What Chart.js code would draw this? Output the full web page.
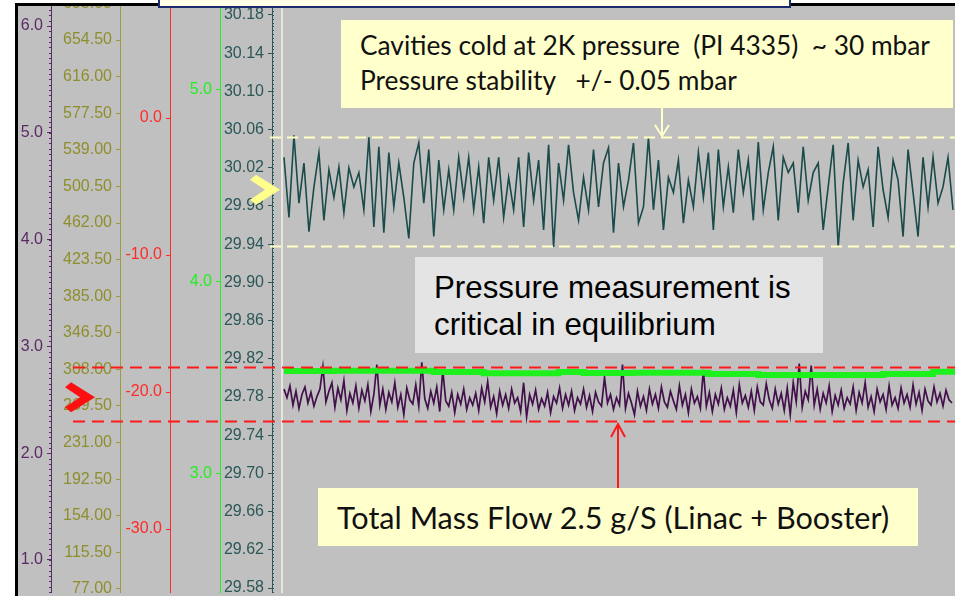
<!DOCTYPE html>
<html>
<head>
<meta charset="utf-8">
<script src="https://cdn.jsdelivr.net/npm/chart.js@4.4.1/dist/chart.umd.min.js"></script>
<style>
  html, body { margin:0; padding:0; background:#ffffff; width:955px; height:596px; overflow:hidden; }
  #frame { position:absolute; left:15px; top:3px; width:945px; height:596px; box-sizing:border-box;
           border-left:3px solid #000; border-top:3px solid #000; border-bottom:3px solid #000; background:#c0c0c0; }
  #chartWrap { position:absolute; left:18px; top:6px; width:937px; height:587px; }
  .box { position:absolute; box-sizing:border-box; }
  #title { left:158px; top:-32px; width:633px; height:40px; background:#fffde6; border:2px solid #1b2a6b; }
  #note1 { left:341px; top:20px; width:612px; height:88px; background:#ffffcc; font-family:Lato, 'Open Sans', sans-serif; font-size:26.3px; line-height:31px; color:#111; }
  #note1 div { position:absolute; left:19px; white-space:pre; }
  #note2 { left:415px; top:257px; width:408px; height:96px; background:#e4e4e4; font-family:'Liberation Sans', Arial, sans-serif; font-size:31.3px; line-height:36px; color:#000; }
  #note2 div { position:absolute; left:19px; white-space:pre; }
  #note3 { left:318px; top:488px; width:600px; height:58px; background:#ffffcc; font-family:Lato, 'Open Sans', sans-serif; font-size:30.6px; line-height:36px; color:#111; }
  #note3 div { position:absolute; left:19px; white-space:pre; }
  svg { position:absolute; left:0; top:0; }
</style>
</head>
<body>
<div id="frame"></div>
<div id="chartWrap"><canvas id="c" width="937" height="587"></canvas></div>
<div class="box" id="title"></div>
<div class="box" id="note1"><div style="top:10px">Cavities cold at 2K pressure  (PI 4335)  ~ 30 mbar</div><div style="top:45px">Pressure stability   +/- 0.05 mbar</div></div>
<div class="box" id="note2"><div style="top:13px">Pressure measurement is</div><div style="top:50px">critical in equilibrium</div></div>
<div class="box" id="note3"><div style="top:12px">Total Mass Flow 2.5 g/S (Linac + Booster)</div></div>
<svg width="955" height="596">
  <polyline points="662,108 662,136" stroke="#ffffcc" stroke-width="2" fill="none"/>
  <polyline points="655,125 662,136 669,125" stroke="#ffffcc" stroke-width="2" fill="none"/>
  <polyline points="618,488 618,424" stroke="#ff1a1a" stroke-width="2" fill="none"/>
  <polyline points="611,437 618,424 625,437" stroke="#ff1a1a" stroke-width="2" fill="none"/>
</svg>
<script>
// ---------- data ----------
// Pressure PI 4335 (mbar), one sample every 5 s
const pressure = [
 30.031, 29.968, 30.054, 29.983, 30.025, 29.953, 30.000, 30.036, 29.965, 30.018,
 29.989, 30.021, 29.973, 30.020, 30.000, 30.015, 29.976, 30.052, 29.958, 30.042,
 29.952, 30.036, 29.979, 30.025, 29.989, 29.946, 30.025, 30.046, 29.983, 30.039,
 29.948, 30.028, 29.976, 30.018, 29.976, 30.031, 29.989, 30.031, 29.976, 30.021,
 29.962, 30.031, 29.986, 30.031, 29.968, 30.010, 29.976, 30.031, 29.958, 30.036,
 29.986, 30.028, 29.955, 30.044, 29.937, 30.025, 29.986, 30.044, 29.994, 29.965,
 30.010, 29.976, 30.039, 29.979, 30.025, 30.041, 29.952,
 30.025, 29.979, 30.007, 30.046, 29.962, 29.979, 30.052, 29.976, 30.028, 29.955,
 30.010, 29.994, 30.028, 29.962, 30.007, 29.979, 30.036, 29.989, 30.036, 29.955,
 30.039, 29.979, 30.021, 29.973, 30.039, 29.994, 30.028, 29.965, 30.047, 29.976,
 30.015, 30.042, 29.965, 30.031, 30.015, 30.025, 29.973, 30.042, 29.986, 30.015,
 30.025, 29.955, 30.000, 30.044, 29.937, 30.004, 30.046, 29.965, 30.028, 30.000,
 30.018, 29.958, 30.042, 29.997, 29.968, 30.028, 30.007, 29.948, 30.039, 29.994,
 29.948, 30.031, 29.979, 30.031, 29.983, 30.000, 30.031, 29.976
];
const pressureStep = 5;

// Total mass flow (g/s), one sample every 3 s
const massFlow = [
 2.60, 2.52, 2.63, 2.45, 2.58, 2.42, 2.55, 2.62, 2.47, 2.57, 2.44, 2.53, 2.60, 2.81, 2.48, 2.58,
 2.66, 2.43, 2.61, 2.50, 2.68, 2.40, 2.56, 2.47, 2.63, 2.42, 2.59, 2.49, 2.64, 2.39, 2.55, 2.83,
 2.45, 2.60, 2.41, 2.57, 2.48, 2.66, 2.43, 2.55, 2.36, 2.61, 2.50, 2.46, 2.64, 2.44, 2.85, 2.51,
 2.42, 2.58, 2.47, 2.62, 2.39, 2.78, 2.49, 2.44, 2.57, 2.38, 2.55, 2.46, 2.60, 2.41, 2.52, 2.45,
 2.56, 2.40, 2.61, 2.48, 2.67, 2.43, 2.53, 2.37, 2.58, 2.45, 2.55, 2.42, 2.60, 2.47, 2.52, 2.39,
 2.66, 2.34, 2.55, 2.46, 2.59, 2.41, 2.51, 2.44, 2.57, 2.38, 2.53, 2.47, 2.61, 2.42, 2.55, 2.45,
 2.58, 2.40, 2.52, 2.46, 2.60, 2.43, 2.54, 2.39, 2.57, 2.48, 2.44, 2.71, 2.47, 2.55, 2.41, 2.52,
 2.45, 2.83, 2.42, 2.56, 2.47, 2.36, 2.58, 2.44, 2.53, 2.40, 2.60, 2.46, 2.55, 2.42, 2.62, 2.48,
 2.43, 2.58, 2.49, 2.41, 2.63, 2.45, 2.55, 2.38, 2.60, 2.47, 2.53, 2.42, 2.78, 2.44, 2.57, 2.39,
 2.55, 2.46, 2.61, 2.41, 2.52, 2.44, 2.59, 2.38, 2.64, 2.47, 2.54, 2.43, 2.58, 2.40, 2.62, 2.48,
 2.45, 2.65, 2.50, 2.42, 2.60, 2.46, 2.56, 2.40, 2.61, 2.36, 2.66, 2.48, 2.84, 2.43, 2.58, 2.50,
 2.82, 2.45, 2.60, 2.41, 2.56, 2.47, 2.63, 2.39, 2.54, 2.45, 2.59, 2.42, 2.52, 2.46, 2.62, 2.40,
 2.57, 2.47, 2.66, 2.43, 2.53, 2.39, 2.60, 2.48, 2.55, 2.41, 2.63, 2.45, 2.52, 2.42, 2.61, 2.47,
 2.55, 2.43, 2.64, 2.46, 2.57, 2.40, 2.60, 2.49, 2.45, 2.62, 2.48, 2.56, 2.44, 2.59, 2.50, 2.47
];
const massFlowStep = 3;

// Green trend, one sample every 25 s
const greenTrend = [
 3.536, 3.536, 3.537, 3.537, 3.537, 3.537, 3.531, 3.531, 3.524, 3.524,
 3.524, 3.531, 3.526, 3.526, 3.527, 3.527, 3.527, 3.521, 3.521, 3.516,
 3.516, 3.516, 3.516, 3.516, 3.521, 3.521, 3.533, 3.533
];
const greenStep = 25;

// limit lines
const pressureLimits = [30.052, 29.938];   // mbar
const flowLimits = [2.807, 2.30];           // g/s
// current-value markers
const pressureMarker = 29.997;
const flowMarker = 2.525;

// tick labels of the five value axes
const purpleTicks = [6.0, 5.0, 4.0, 3.0, 2.0, 1.0];
const oliveTicks = [693.0, 654.5, 616.0, 577.5, 539.0, 500.5, 462.0, 423.5, 385.0, 346.5, 308.0, 269.5, 231.0, 192.5, 154.0, 115.5, 77.0];
const redTicks = [0.0, -10.0, -20.0, -30.0];
const greenTicks = [5.0, 4.0, 3.0];
const tealTicks = [30.18, 30.14, 30.10, 30.06, 30.02, 29.98, 29.94, 29.90, 29.86, 29.82, 29.78, 29.74, 29.70, 29.66, 29.62, 29.58];

// ---------- chart ----------
const C = {
  purple: '#5a2a66', purpleLine: '#42104a',
  olive: '#8e8e2c', oliveLine: '#9c9c3c',
  red: '#ff2a2a', green: '#22ee22', greenLine: '#1ef01e',
  teal: '#2c5757', tealLine: '#1a4a4a'
};
const tickFont = { family: "'Liberation Sans', Arial, sans-serif", size: 16 };

function series(arr, step) { return arr.map((v, i) => ({ x: i * step, y: v })); }

function yAxis(weight, width, min, max, ticks, color, lineColor, dec) {
  return {
    type: 'linear', position: 'left', weight: weight, min: min, max: max,
    afterBuildTicks: s => { s.ticks = ticks.map(v => ({ value: v })); },
    afterFit: s => { s.width = width; s.paddingTop = 0; s.paddingBottom = 0; },
    ticks: { color: color, font: tickFont, padding: 4, autoSkip: false, callback: v => Number(v).toFixed(dec) },
    grid: { display: true, drawOnChartArea: false, drawTicks: true, tickLength: 4, tickColor: lineColor, tickWidth: 1 },
    border: { display: true, color: lineColor, width: 1 }
  };
}

const decor = {
  id: 'decor',
  afterDatasetsDraw(chart) {
    const ctx = chart.ctx, a = chart.chartArea, s = chart.scales;
    ctx.save();
    // pale vertical start line
    ctx.strokeStyle = '#e6e6de'; ctx.lineWidth = 2;
    ctx.beginPath(); ctx.moveTo(a.left + 10, a.top); ctx.lineTo(a.left + 10, a.bottom); ctx.stroke();
    // minor ticks teal axis
    ctx.fillStyle = C.teal;
    for (let v = 29.5; v <= 30.2; v += 0.004) {
      const y = s.yT.getPixelForValue(v);
      if (y >= a.top && y <= a.bottom) ctx.fillRect(s.yT.right, Math.round(y), 2, 1);
    }
    // minor ticks purple axis
    ctx.fillStyle = C.purple;
    for (let v = 0.5; v <= 6.5; v += 0.05) {
      const y = s.yP.getPixelForValue(v);
      if (y >= a.top && y <= a.bottom) ctx.fillRect(s.yP.right - 2, Math.round(y), 2, 1);
    }
    // pressure limits
    ctx.strokeStyle = '#ffffc4'; ctx.lineWidth = 2; ctx.setLineDash([11, 6]);
    pressureLimits.forEach(v => {
      const y = Math.round(s.yT.getPixelForValue(v)) + 0.5;
      ctx.beginPath(); ctx.moveTo(s.yT.right - 2, y); ctx.lineTo(a.right, y); ctx.stroke();
    });
    // flow limits
    ctx.strokeStyle = '#ff1a1a';
    ctx.setLineDash([12, 7]);
    flowLimits.forEach(v => {
      const y = Math.round(s.yP.getPixelForValue(v)) + 0.5;
      ctx.beginPath(); ctx.moveTo(s.yO.left + 22, y); ctx.lineTo(a.right, y); ctx.stroke();
    });
    ctx.setLineDash([]);
    // markers
    function chevron(tx, ty, color) {
      ctx.fillStyle = color;
      ctx.beginPath();
      ctx.moveTo(tx - 30, ty - 10); ctx.lineTo(tx - 24, ty - 15); ctx.lineTo(tx, ty);
      ctx.lineTo(tx - 24, ty + 15); ctx.lineTo(tx - 30, ty + 10); ctx.lineTo(tx - 15, ty);
      ctx.closePath(); ctx.fill();
    }
    chevron(s.yT.right + 8, s.yT.getPixelForValue(pressureMarker), '#ffff8c');
    chevron(s.yO.right - 25, s.yP.getPixelForValue(flowMarker), '#ff1010');
    ctx.restore();
  }
};

new Chart(document.getElementById('c'), {
  type: 'line',
  data: {
    datasets: [
      { data: series(greenTrend, greenStep), yAxisID: 'yG', borderColor: C.greenLine, borderWidth: 6, pointRadius: 0, stepped: true },
      { data: series(massFlow, massFlowStep), yAxisID: 'yP', borderColor: C.purpleLine, borderWidth: 1.7, pointRadius: 0 },
      { data: series(pressure, pressureStep), yAxisID: 'yT', borderColor: C.tealLine, borderWidth: 1.6, pointRadius: 0 }
    ]
  },
  options: {
    responsive: false, animation: false, devicePixelRatio: 1,
    layout: { padding: 0 },
    plugins: { legend: { display: false }, tooltip: { enabled: false } },
    scales: {
      x: { type: 'linear', display: false, min: -12, max: 672 },
      yP: yAxis(5, 33, 0.691, 6.1873, purpleTicks, C.purple, C.purple, 1),
      yO: yAxis(4, 69, 72.79, 690.27, oliveTicks, C.olive, C.oliveLine, 2),
      yR: yAxis(3, 50, -34.67, 8.175, redTicks, C.red, C.red, 1),
      yG: yAxis(2, 50, 2.380, 5.4375, greenTicks, C.green, C.green, 1),
      yT: yAxis(1, 52, 29.5748, 30.1894, tealTicks, C.teal, C.teal, 2)
    }
  },
  plugins: [decor]
});
</script>
</body>
</html>
